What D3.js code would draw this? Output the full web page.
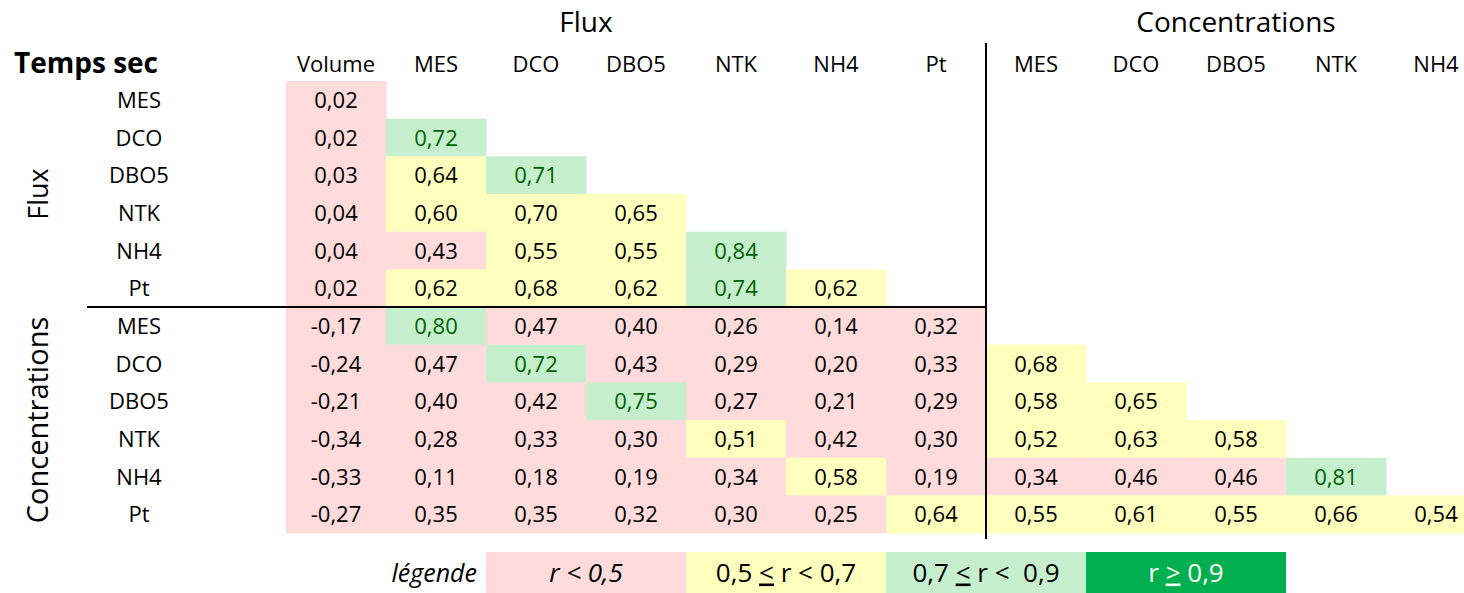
<!DOCTYPE html>
<html>
<head>
<meta charset="utf-8">
<script src="https://cdn.jsdelivr.net/npm/d3@7"></script>
<style>
  body { margin: 0; background: #fff; }
  text { font-family: "Open Sans", "Noto Sans", sans-serif; fill: #000; }
</style>
</head>
<body>
<svg id="chart" width="1464" height="593"></svg>
<script>
// Column and row labels
const colLabels = ["Volume", "MES", "DCO", "DBO5", "NTK", "NH4", "Pt", "MES", "DCO", "DBO5", "NTK", "NH4"];
const rowLabels = ["MES", "DCO", "DBO5", "NTK", "NH4", "Pt", "MES", "DCO", "DBO5", "NTK", "NH4", "Pt"];
const groupLabels = ["Flux", "Concentrations"];

// Correlation values, row by row (lower triangle)
const fluxMES = [0.02];
const fluxDCO = [0.02, 0.72];
const fluxDBO5 = [0.03, 0.64, 0.71];
const fluxNTK = [0.04, 0.60, 0.698, 0.65];
const fluxNH4 = [0.04, 0.43, 0.55, 0.55, 0.84];
const fluxPt = [0.02, 0.62, 0.68, 0.62, 0.74, 0.62];
const concMES = [-0.17, 0.80, 0.47, 0.40, 0.26, 0.14, 0.32];
const concDCO = [-0.24, 0.47, 0.72, 0.43, 0.29, 0.20, 0.33, 0.68];
const concDBO5 = [-0.21, 0.40, 0.42, 0.75, 0.27, 0.21, 0.29, 0.58, 0.65];
const concNTK = [-0.34, 0.28, 0.33, 0.30, 0.51, 0.42, 0.30, 0.52, 0.63, 0.58];
const concNH4 = [-0.33, 0.11, 0.18, 0.19, 0.34, 0.58, 0.19, 0.34, 0.46, 0.46, 0.81];
const concPt = [-0.27, 0.35, 0.35, 0.32, 0.30, 0.25, 0.64, 0.55, 0.61, 0.55, 0.66, 0.54];

const matrix = [fluxMES, fluxDCO, fluxDBO5, fluxNTK, fluxNH4, fluxPt,
                concMES, concDCO, concDBO5, concNTK, concNH4, concPt];

// Legend classes
const thresholds = [0.5, 0.7, 0.9];
const fillColors = ["#FFDCDB", "#FFFFBE", "#C6EFCE", "#00B050"];
const textColors = ["#000", "#000", "#006100", "#fff"];

var svg = d3.select("#chart");

var x = d3.scaleBand()
    .domain(d3.range(colLabels.length))
    .range([286, 1486]);

var y = d3.scaleBand()
    .domain(d3.range(rowLabels.length))
    .range([81, 533]);

var fillScale = d3.scaleThreshold().domain(thresholds).range(fillColors);
var textScale = d3.scaleThreshold().domain(thresholds).range(textColors);

var locale = d3.formatLocale({ decimal: ",", thousands: " ", grouping: [3], currency: ["", "€"], minus: "-" });
var fmt = locale.format(".2f");

// flatten to cells
var cells = [];
matrix.forEach(function (row, i) {
    row.forEach(function (v, j) {
        cells.push({ row: i, col: j, value: v });
    });
});

// cell backgrounds
svg.selectAll("rect.cell")
    .data(cells)
    .enter()
    .append("rect")
    .attr("class", "cell")
    .attr("x", d => x(d.col))
    .attr("y", d => y(d.row))
    .attr("width", x.bandwidth() + 0.5)
    .attr("height", y.bandwidth() + 0.5)
    .style("fill", d => fillScale(d.value));

// cell values
svg.selectAll("text.val")
    .data(cells)
    .enter()
    .append("text")
    .attr("class", "val")
    .attr("x", d => x(d.col) + x.bandwidth() / 2)
    .attr("y", d => y(d.row) + y.bandwidth() / 2 + 8)
    .attr("text-anchor", "middle")
    .style("font-size", "22px")
    .style("fill", d => textScale(d.value))
    .text(d => fmt(d.value));

// column headers
svg.selectAll("text.col")
    .data(colLabels)
    .enter()
    .append("text")
    .attr("class", "col")
    .attr("x", (d, i) => x(i) + x.bandwidth() / 2)
    .attr("y", 72)
    .attr("text-anchor", "middle")
    .style("font-size", "22px")
    .text(d => d);

// row headers
svg.selectAll("text.row")
    .data(rowLabels)
    .enter()
    .append("text")
    .attr("class", "row")
    .attr("x", 139)
    .attr("y", (d, i) => y(i) + y.bandwidth() / 2 + 8)
    .attr("text-anchor", "middle")
    .style("font-size", "22px")
    .text(d => d);

// group titles on top
svg.append("text")
    .attr("x", (x(0) + x(6)) / 2)
    .attr("y", 32)
    .attr("text-anchor", "middle")
    .style("font-size", "28px")
    .text(groupLabels[0]);

svg.append("text")
    .attr("x", (x(7) + x(11) + x.bandwidth()) / 2)
    .attr("y", 32)
    .attr("text-anchor", "middle")
    .style("font-size", "28px")
    .text(groupLabels[1]);

// group titles on the side, rotated
[[0, 5], [6, 11]].forEach(function (r, k) {
    var cy = (y(r[0]) + y(r[1]) + y.bandwidth()) / 2;
    svg.append("text")
        .attr("transform", "translate(48," + cy + ") rotate(-90)")
        .attr("text-anchor", "middle")
        .style("font-size", k === 0 ? "27px" : "29px")
        .text(groupLabels[k]);
});

// title
svg.append("text")
    .attr("x", 14)
    .attr("y", 73)
    .style("font-size", "28px")
    .style("font-weight", "bold")
    .text("Temps sec");

// separator lines
svg.append("line")
    .attr("x1", x(7)).attr("x2", x(7))
    .attr("y1", 43).attr("y2", 539)
    .attr("stroke", "#000").attr("stroke-width", 2);

svg.append("line")
    .attr("x1", 87).attr("x2", x(7))
    .attr("y1", y(6)).attr("y2", y(6))
    .attr("stroke", "#000").attr("stroke-width", 2);

// legend
var legendY = 552, legendH = 41;
var legendItems = [
    { parts: [["r < 0,5", false]], italic: true },
    { parts: [["0,5 ", false], ["<", true], [" r < 0,7", false]] },
    { parts: [["0,7 ", false], ["<", true], [" r <\u00a0 0,9", false]] },
    { parts: [["r ", false], [">", true], [" 0,9", false]] }
];

svg.append("text")
    .attr("x", 477)
    .attr("y", legendY + legendH / 2 + 9)
    .attr("text-anchor", "end")
    .style("font-size", "25px")
    .style("font-style", "italic")
    .text("légende");

legendItems.forEach(function (item, k) {
    var lx = x(2 + 2 * k);
    svg.append("rect")
        .attr("x", lx)
        .attr("y", legendY)
        .attr("width", 2 * x.bandwidth())
        .attr("height", legendH)
        .style("fill", fillColors[k]);

    var t = svg.append("text")
        .attr("x", lx + x.bandwidth())
        .attr("y", legendY + legendH / 2 + 9)
        .attr("text-anchor", "middle")
        .style("font-size", "26px")
        .style("font-style", item.italic ? "italic" : "normal")
        .style("fill", k === 3 ? "#fff" : "#000");

    item.parts.forEach(function (p) {
        t.append("tspan")
            .style("text-decoration", p[1] ? "underline" : "none")
            .style("fill", k === 3 ? "#fff" : "#000")
            .text(p[0]);
    });
});
</script>
</body>
</html>
